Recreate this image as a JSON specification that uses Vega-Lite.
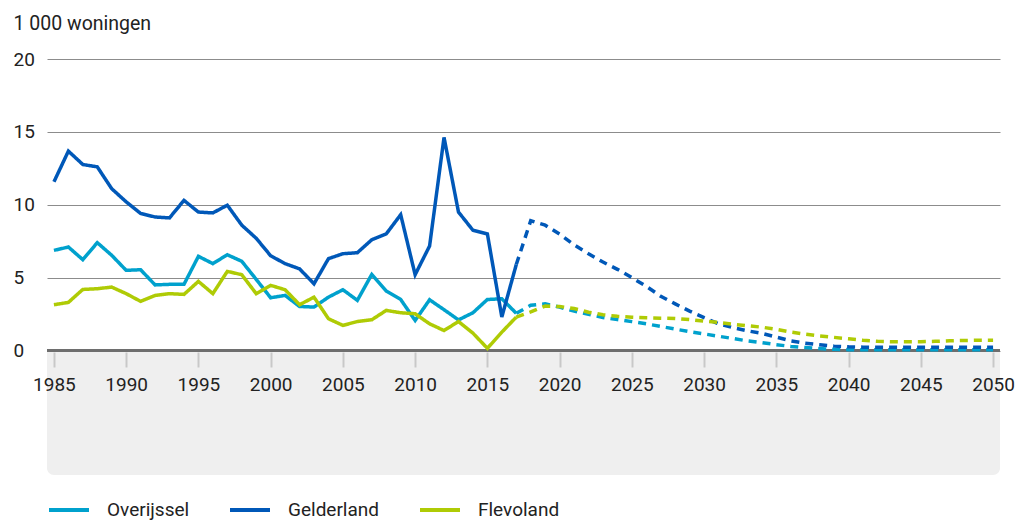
{
  "$schema": "https://vega.github.io/schema/vega-lite/v6.json",
  "autosize": {"type": "none"},
  "padding": {"left": 47, "top": 59, "right": 24, "bottom": 45},
  "width": 953,
  "height": 416,
  "background": "white",
  "config": {
    "font": "Roboto",
    "view": {"stroke": null},
    "axis": {"labelFont": "Roboto", "titleFont": "Roboto"},
    "legend": {"labelFont": "Roboto"}
  },
  "layer": [
    {
      "data": {"values": [{}]},
      "mark": {"type": "rect", "fill": "#efefef", "cornerRadiusBottomLeft": 7, "cornerRadiusBottomRight": 7},
      "encoding": {
        "x": {"datum": 1984.52, "type": "quantitative"},
        "x2": {"datum": 2050.48},
        "y": {"datum": 0, "type": "quantitative"},
        "y2": {"datum": -8.542}
      }
    },
    {
      "data": {"values": [{}]},
      "mark": {"type": "rule", "color": "#6e6e6e", "strokeWidth": 3},
      "encoding": {
        "y": {"datum": 0, "type": "quantitative"}
      }
    },
    {
      "data": {"values": [
        {"jaar": 1985, "provincie": "Overijssel", "type": "realisatie", "waarde": 6.87},
        {"jaar": 1986, "provincie": "Overijssel", "type": "realisatie", "waarde": 7.1},
        {"jaar": 1987, "provincie": "Overijssel", "type": "realisatie", "waarde": 6.23},
        {"jaar": 1988, "provincie": "Overijssel", "type": "realisatie", "waarde": 7.4},
        {"jaar": 1989, "provincie": "Overijssel", "type": "realisatie", "waarde": 6.53},
        {"jaar": 1990, "provincie": "Overijssel", "type": "realisatie", "waarde": 5.5},
        {"jaar": 1991, "provincie": "Overijssel", "type": "realisatie", "waarde": 5.54},
        {"jaar": 1992, "provincie": "Overijssel", "type": "realisatie", "waarde": 4.5},
        {"jaar": 1993, "provincie": "Overijssel", "type": "realisatie", "waarde": 4.54},
        {"jaar": 1994, "provincie": "Overijssel", "type": "realisatie", "waarde": 4.54},
        {"jaar": 1995, "provincie": "Overijssel", "type": "realisatie", "waarde": 6.46},
        {"jaar": 1996, "provincie": "Overijssel", "type": "realisatie", "waarde": 5.96},
        {"jaar": 1997, "provincie": "Overijssel", "type": "realisatie", "waarde": 6.57},
        {"jaar": 1998, "provincie": "Overijssel", "type": "realisatie", "waarde": 6.12},
        {"jaar": 1999, "provincie": "Overijssel", "type": "realisatie", "waarde": 4.88},
        {"jaar": 2000, "provincie": "Overijssel", "type": "realisatie", "waarde": 3.62},
        {"jaar": 2001, "provincie": "Overijssel", "type": "realisatie", "waarde": 3.78},
        {"jaar": 2002, "provincie": "Overijssel", "type": "realisatie", "waarde": 3.02},
        {"jaar": 2003, "provincie": "Overijssel", "type": "realisatie", "waarde": 2.98},
        {"jaar": 2004, "provincie": "Overijssel", "type": "realisatie", "waarde": 3.66},
        {"jaar": 2005, "provincie": "Overijssel", "type": "realisatie", "waarde": 4.17},
        {"jaar": 2006, "provincie": "Overijssel", "type": "realisatie", "waarde": 3.44},
        {"jaar": 2007, "provincie": "Overijssel", "type": "realisatie", "waarde": 5.22},
        {"jaar": 2008, "provincie": "Overijssel", "type": "realisatie", "waarde": 4.08},
        {"jaar": 2009, "provincie": "Overijssel", "type": "realisatie", "waarde": 3.5},
        {"jaar": 2010, "provincie": "Overijssel", "type": "realisatie", "waarde": 2.06},
        {"jaar": 2011, "provincie": "Overijssel", "type": "realisatie", "waarde": 3.48},
        {"jaar": 2012, "provincie": "Overijssel", "type": "realisatie", "waarde": 2.8},
        {"jaar": 2013, "provincie": "Overijssel", "type": "realisatie", "waarde": 2.1},
        {"jaar": 2014, "provincie": "Overijssel", "type": "realisatie", "waarde": 2.59},
        {"jaar": 2015, "provincie": "Overijssel", "type": "realisatie", "waarde": 3.5},
        {"jaar": 2016, "provincie": "Overijssel", "type": "realisatie", "waarde": 3.55},
        {"jaar": 2017, "provincie": "Overijssel", "type": "realisatie", "waarde": 2.55},
        {"jaar": 1985, "provincie": "Gelderland", "type": "realisatie", "waarde": 11.57},
        {"jaar": 1986, "provincie": "Gelderland", "type": "realisatie", "waarde": 13.68},
        {"jaar": 1987, "provincie": "Gelderland", "type": "realisatie", "waarde": 12.76},
        {"jaar": 1988, "provincie": "Gelderland", "type": "realisatie", "waarde": 12.6},
        {"jaar": 1989, "provincie": "Gelderland", "type": "realisatie", "waarde": 11.1},
        {"jaar": 1990, "provincie": "Gelderland", "type": "realisatie", "waarde": 10.2},
        {"jaar": 1991, "provincie": "Gelderland", "type": "realisatie", "waarde": 9.4},
        {"jaar": 1992, "provincie": "Gelderland", "type": "realisatie", "waarde": 9.16},
        {"jaar": 1993, "provincie": "Gelderland", "type": "realisatie", "waarde": 9.1},
        {"jaar": 1994, "provincie": "Gelderland", "type": "realisatie", "waarde": 10.3},
        {"jaar": 1995, "provincie": "Gelderland", "type": "realisatie", "waarde": 9.5},
        {"jaar": 1996, "provincie": "Gelderland", "type": "realisatie", "waarde": 9.44},
        {"jaar": 1997, "provincie": "Gelderland", "type": "realisatie", "waarde": 9.97},
        {"jaar": 1998, "provincie": "Gelderland", "type": "realisatie", "waarde": 8.6},
        {"jaar": 1999, "provincie": "Gelderland", "type": "realisatie", "waarde": 7.7},
        {"jaar": 2000, "provincie": "Gelderland", "type": "realisatie", "waarde": 6.5},
        {"jaar": 2001, "provincie": "Gelderland", "type": "realisatie", "waarde": 5.96},
        {"jaar": 2002, "provincie": "Gelderland", "type": "realisatie", "waarde": 5.6},
        {"jaar": 2003, "provincie": "Gelderland", "type": "realisatie", "waarde": 4.58},
        {"jaar": 2004, "provincie": "Gelderland", "type": "realisatie", "waarde": 6.3},
        {"jaar": 2005, "provincie": "Gelderland", "type": "realisatie", "waarde": 6.64},
        {"jaar": 2006, "provincie": "Gelderland", "type": "realisatie", "waarde": 6.71},
        {"jaar": 2007, "provincie": "Gelderland", "type": "realisatie", "waarde": 7.6},
        {"jaar": 2008, "provincie": "Gelderland", "type": "realisatie", "waarde": 8.0},
        {"jaar": 2009, "provincie": "Gelderland", "type": "realisatie", "waarde": 9.32},
        {"jaar": 2010, "provincie": "Gelderland", "type": "realisatie", "waarde": 5.2},
        {"jaar": 2011, "provincie": "Gelderland", "type": "realisatie", "waarde": 7.17},
        {"jaar": 2012, "provincie": "Gelderland", "type": "realisatie", "waarde": 14.62},
        {"jaar": 2013, "provincie": "Gelderland", "type": "realisatie", "waarde": 9.5},
        {"jaar": 2014, "provincie": "Gelderland", "type": "realisatie", "waarde": 8.25},
        {"jaar": 2015, "provincie": "Gelderland", "type": "realisatie", "waarde": 8.0},
        {"jaar": 2016, "provincie": "Gelderland", "type": "realisatie", "waarde": 2.3},
        {"jaar": 2017, "provincie": "Gelderland", "type": "realisatie", "waarde": 5.9},
        {"jaar": 1985, "provincie": "Flevoland", "type": "realisatie", "waarde": 3.14},
        {"jaar": 1986, "provincie": "Flevoland", "type": "realisatie", "waarde": 3.3},
        {"jaar": 1987, "provincie": "Flevoland", "type": "realisatie", "waarde": 4.19},
        {"jaar": 1988, "provincie": "Flevoland", "type": "realisatie", "waarde": 4.24},
        {"jaar": 1989, "provincie": "Flevoland", "type": "realisatie", "waarde": 4.35},
        {"jaar": 1990, "provincie": "Flevoland", "type": "realisatie", "waarde": 3.9},
        {"jaar": 1991, "provincie": "Flevoland", "type": "realisatie", "waarde": 3.37},
        {"jaar": 1992, "provincie": "Flevoland", "type": "realisatie", "waarde": 3.78},
        {"jaar": 1993, "provincie": "Flevoland", "type": "realisatie", "waarde": 3.9},
        {"jaar": 1994, "provincie": "Flevoland", "type": "realisatie", "waarde": 3.85},
        {"jaar": 1995, "provincie": "Flevoland", "type": "realisatie", "waarde": 4.74},
        {"jaar": 1996, "provincie": "Flevoland", "type": "realisatie", "waarde": 3.9},
        {"jaar": 1997, "provincie": "Flevoland", "type": "realisatie", "waarde": 5.43},
        {"jaar": 1998, "provincie": "Flevoland", "type": "realisatie", "waarde": 5.2},
        {"jaar": 1999, "provincie": "Flevoland", "type": "realisatie", "waarde": 3.9},
        {"jaar": 2000, "provincie": "Flevoland", "type": "realisatie", "waarde": 4.47},
        {"jaar": 2001, "provincie": "Flevoland", "type": "realisatie", "waarde": 4.17},
        {"jaar": 2002, "provincie": "Flevoland", "type": "realisatie", "waarde": 3.14},
        {"jaar": 2003, "provincie": "Flevoland", "type": "realisatie", "waarde": 3.66},
        {"jaar": 2004, "provincie": "Flevoland", "type": "realisatie", "waarde": 2.18},
        {"jaar": 2005, "provincie": "Flevoland", "type": "realisatie", "waarde": 1.72},
        {"jaar": 2006, "provincie": "Flevoland", "type": "realisatie", "waarde": 1.99},
        {"jaar": 2007, "provincie": "Flevoland", "type": "realisatie", "waarde": 2.11},
        {"jaar": 2008, "provincie": "Flevoland", "type": "realisatie", "waarde": 2.75},
        {"jaar": 2009, "provincie": "Flevoland", "type": "realisatie", "waarde": 2.59},
        {"jaar": 2010, "provincie": "Flevoland", "type": "realisatie", "waarde": 2.52},
        {"jaar": 2011, "provincie": "Flevoland", "type": "realisatie", "waarde": 1.83},
        {"jaar": 2012, "provincie": "Flevoland", "type": "realisatie", "waarde": 1.37},
        {"jaar": 2013, "provincie": "Flevoland", "type": "realisatie", "waarde": 1.99},
        {"jaar": 2014, "provincie": "Flevoland", "type": "realisatie", "waarde": 1.19},
        {"jaar": 2015, "provincie": "Flevoland", "type": "realisatie", "waarde": 0.15},
        {"jaar": 2016, "provincie": "Flevoland", "type": "realisatie", "waarde": 1.26},
        {"jaar": 2017, "provincie": "Flevoland", "type": "realisatie", "waarde": 2.29},
        {"jaar": 2017, "provincie": "Overijssel", "type": "prognose", "waarde": 2.55},
        {"jaar": 2018, "provincie": "Overijssel", "type": "prognose", "waarde": 3.1},
        {"jaar": 2019, "provincie": "Overijssel", "type": "prognose", "waarde": 3.2},
        {"jaar": 2020, "provincie": "Overijssel", "type": "prognose", "waarde": 2.98},
        {"jaar": 2021, "provincie": "Overijssel", "type": "prognose", "waarde": 2.7},
        {"jaar": 2022, "provincie": "Overijssel", "type": "prognose", "waarde": 2.48},
        {"jaar": 2023, "provincie": "Overijssel", "type": "prognose", "waarde": 2.27},
        {"jaar": 2024, "provincie": "Overijssel", "type": "prognose", "waarde": 2.12},
        {"jaar": 2025, "provincie": "Overijssel", "type": "prognose", "waarde": 1.98},
        {"jaar": 2026, "provincie": "Overijssel", "type": "prognose", "waarde": 1.83},
        {"jaar": 2027, "provincie": "Overijssel", "type": "prognose", "waarde": 1.65},
        {"jaar": 2028, "provincie": "Overijssel", "type": "prognose", "waarde": 1.47},
        {"jaar": 2029, "provincie": "Overijssel", "type": "prognose", "waarde": 1.29},
        {"jaar": 2030, "provincie": "Overijssel", "type": "prognose", "waarde": 1.14},
        {"jaar": 2031, "provincie": "Overijssel", "type": "prognose", "waarde": 0.98},
        {"jaar": 2032, "provincie": "Overijssel", "type": "prognose", "waarde": 0.82},
        {"jaar": 2033, "provincie": "Overijssel", "type": "prognose", "waarde": 0.66},
        {"jaar": 2034, "provincie": "Overijssel", "type": "prognose", "waarde": 0.54},
        {"jaar": 2035, "provincie": "Overijssel", "type": "prognose", "waarde": 0.4},
        {"jaar": 2036, "provincie": "Overijssel", "type": "prognose", "waarde": 0.28},
        {"jaar": 2037, "provincie": "Overijssel", "type": "prognose", "waarde": 0.2},
        {"jaar": 2038, "provincie": "Overijssel", "type": "prognose", "waarde": 0.13},
        {"jaar": 2039, "provincie": "Overijssel", "type": "prognose", "waarde": 0.08},
        {"jaar": 2040, "provincie": "Overijssel", "type": "prognose", "waarde": 0.06},
        {"jaar": 2041, "provincie": "Overijssel", "type": "prognose", "waarde": 0.06},
        {"jaar": 2042, "provincie": "Overijssel", "type": "prognose", "waarde": 0.06},
        {"jaar": 2043, "provincie": "Overijssel", "type": "prognose", "waarde": 0.06},
        {"jaar": 2044, "provincie": "Overijssel", "type": "prognose", "waarde": 0.06},
        {"jaar": 2045, "provincie": "Overijssel", "type": "prognose", "waarde": 0.06},
        {"jaar": 2046, "provincie": "Overijssel", "type": "prognose", "waarde": 0.06},
        {"jaar": 2047, "provincie": "Overijssel", "type": "prognose", "waarde": 0.06},
        {"jaar": 2048, "provincie": "Overijssel", "type": "prognose", "waarde": 0.06},
        {"jaar": 2049, "provincie": "Overijssel", "type": "prognose", "waarde": 0.06},
        {"jaar": 2050, "provincie": "Overijssel", "type": "prognose", "waarde": 0.06},
        {"jaar": 2017, "provincie": "Gelderland", "type": "prognose", "waarde": 5.9},
        {"jaar": 2018, "provincie": "Gelderland", "type": "prognose", "waarde": 8.9},
        {"jaar": 2019, "provincie": "Gelderland", "type": "prognose", "waarde": 8.6},
        {"jaar": 2020, "provincie": "Gelderland", "type": "prognose", "waarde": 7.98},
        {"jaar": 2021, "provincie": "Gelderland", "type": "prognose", "waarde": 7.25},
        {"jaar": 2022, "provincie": "Gelderland", "type": "prognose", "waarde": 6.64},
        {"jaar": 2023, "provincie": "Gelderland", "type": "prognose", "waarde": 6.07},
        {"jaar": 2024, "provincie": "Gelderland", "type": "prognose", "waarde": 5.57},
        {"jaar": 2025, "provincie": "Gelderland", "type": "prognose", "waarde": 5.0},
        {"jaar": 2026, "provincie": "Gelderland", "type": "prognose", "waarde": 4.4},
        {"jaar": 2027, "provincie": "Gelderland", "type": "prognose", "waarde": 3.72},
        {"jaar": 2028, "provincie": "Gelderland", "type": "prognose", "waarde": 3.2},
        {"jaar": 2029, "provincie": "Gelderland", "type": "prognose", "waarde": 2.7},
        {"jaar": 2030, "provincie": "Gelderland", "type": "prognose", "waarde": 2.25},
        {"jaar": 2031, "provincie": "Gelderland", "type": "prognose", "waarde": 1.83},
        {"jaar": 2032, "provincie": "Gelderland", "type": "prognose", "waarde": 1.57},
        {"jaar": 2033, "provincie": "Gelderland", "type": "prognose", "waarde": 1.35},
        {"jaar": 2034, "provincie": "Gelderland", "type": "prognose", "waarde": 1.18},
        {"jaar": 2035, "provincie": "Gelderland", "type": "prognose", "waarde": 0.92},
        {"jaar": 2036, "provincie": "Gelderland", "type": "prognose", "waarde": 0.66},
        {"jaar": 2037, "provincie": "Gelderland", "type": "prognose", "waarde": 0.5},
        {"jaar": 2038, "provincie": "Gelderland", "type": "prognose", "waarde": 0.39},
        {"jaar": 2039, "provincie": "Gelderland", "type": "prognose", "waarde": 0.3},
        {"jaar": 2040, "provincie": "Gelderland", "type": "prognose", "waarde": 0.25},
        {"jaar": 2041, "provincie": "Gelderland", "type": "prognose", "waarde": 0.23},
        {"jaar": 2042, "provincie": "Gelderland", "type": "prognose", "waarde": 0.22},
        {"jaar": 2043, "provincie": "Gelderland", "type": "prognose", "waarde": 0.22},
        {"jaar": 2044, "provincie": "Gelderland", "type": "prognose", "waarde": 0.22},
        {"jaar": 2045, "provincie": "Gelderland", "type": "prognose", "waarde": 0.22},
        {"jaar": 2046, "provincie": "Gelderland", "type": "prognose", "waarde": 0.22},
        {"jaar": 2047, "provincie": "Gelderland", "type": "prognose", "waarde": 0.22},
        {"jaar": 2048, "provincie": "Gelderland", "type": "prognose", "waarde": 0.22},
        {"jaar": 2049, "provincie": "Gelderland", "type": "prognose", "waarde": 0.22},
        {"jaar": 2050, "provincie": "Gelderland", "type": "prognose", "waarde": 0.22},
        {"jaar": 2017, "provincie": "Flevoland", "type": "prognose", "waarde": 2.29},
        {"jaar": 2018, "provincie": "Flevoland", "type": "prognose", "waarde": 2.65},
        {"jaar": 2019, "provincie": "Flevoland", "type": "prognose", "waarde": 3.05},
        {"jaar": 2020, "provincie": "Flevoland", "type": "prognose", "waarde": 3.02},
        {"jaar": 2021, "provincie": "Flevoland", "type": "prognose", "waarde": 2.88},
        {"jaar": 2022, "provincie": "Flevoland", "type": "prognose", "waarde": 2.62},
        {"jaar": 2023, "provincie": "Flevoland", "type": "prognose", "waarde": 2.45},
        {"jaar": 2024, "provincie": "Flevoland", "type": "prognose", "waarde": 2.35},
        {"jaar": 2025, "provincie": "Flevoland", "type": "prognose", "waarde": 2.28},
        {"jaar": 2026, "provincie": "Flevoland", "type": "prognose", "waarde": 2.24},
        {"jaar": 2027, "provincie": "Flevoland", "type": "prognose", "waarde": 2.22},
        {"jaar": 2028, "provincie": "Flevoland", "type": "prognose", "waarde": 2.2},
        {"jaar": 2029, "provincie": "Flevoland", "type": "prognose", "waarde": 2.12},
        {"jaar": 2030, "provincie": "Flevoland", "type": "prognose", "waarde": 2.02},
        {"jaar": 2031, "provincie": "Flevoland", "type": "prognose", "waarde": 1.93},
        {"jaar": 2032, "provincie": "Flevoland", "type": "prognose", "waarde": 1.8},
        {"jaar": 2033, "provincie": "Flevoland", "type": "prognose", "waarde": 1.7},
        {"jaar": 2034, "provincie": "Flevoland", "type": "prognose", "waarde": 1.6},
        {"jaar": 2035, "provincie": "Flevoland", "type": "prognose", "waarde": 1.45},
        {"jaar": 2036, "provincie": "Flevoland", "type": "prognose", "waarde": 1.26},
        {"jaar": 2037, "provincie": "Flevoland", "type": "prognose", "waarde": 1.12},
        {"jaar": 2038, "provincie": "Flevoland", "type": "prognose", "waarde": 1.0},
        {"jaar": 2039, "provincie": "Flevoland", "type": "prognose", "waarde": 0.9},
        {"jaar": 2040, "provincie": "Flevoland", "type": "prognose", "waarde": 0.8},
        {"jaar": 2041, "provincie": "Flevoland", "type": "prognose", "waarde": 0.7},
        {"jaar": 2042, "provincie": "Flevoland", "type": "prognose", "waarde": 0.63},
        {"jaar": 2043, "provincie": "Flevoland", "type": "prognose", "waarde": 0.6},
        {"jaar": 2044, "provincie": "Flevoland", "type": "prognose", "waarde": 0.6},
        {"jaar": 2045, "provincie": "Flevoland", "type": "prognose", "waarde": 0.6},
        {"jaar": 2046, "provincie": "Flevoland", "type": "prognose", "waarde": 0.63},
        {"jaar": 2047, "provincie": "Flevoland", "type": "prognose", "waarde": 0.67},
        {"jaar": 2048, "provincie": "Flevoland", "type": "prognose", "waarde": 0.69},
        {"jaar": 2049, "provincie": "Flevoland", "type": "prognose", "waarde": 0.7},
        {"jaar": 2050, "provincie": "Flevoland", "type": "prognose", "waarde": 0.7}
      ]},
      "mark": {"type": "line", "strokeWidth": 3.5, "strokeCap": "butt"},
      "encoding": {
        "x": {
          "field": "jaar",
          "type": "quantitative",
          "scale": {"domain": [1984.52, 2050.48], "nice": false, "zero": false},
          "axis": {
            "values": [1985, 1990, 1995, 2000, 2005, 2010, 2015, 2020, 2025, 2030, 2035, 2040, 2045, 2050],
            "format": "d",
            "title": null,
            "grid": false,
            "domain": false,
            "offset": -123,
            "zindex": 1,
            "tickColor": "#c8c8c8",
            "tickWidth": 2,
            "tickSize": 15,
            "labelFontSize": 19,
            "labelColor": "#222222",
            "labelPadding": 8,
            "labelFlush": false
          }
        },
        "y": {
          "field": "waarde",
          "type": "quantitative",
          "scale": {"domain": [-8.542, 20], "nice": false, "zero": false},
          "axis": {
            "values": [0, 5, 10, 15, 20],
            "title": "1 000 woningen",
            "titleAngle": 0,
            "titleAlign": "left",
            "titleBaseline": "alphabetic",
            "titleX": -34,
            "titleY": -30,
            "titleFontSize": 19.5,
            "titleFontWeight": "normal",
            "titleColor": "#222222",
            "grid": true,
            "gridColor": "#8c8c8c",
            "gridWidth": 1,
            "domain": false,
            "ticks": false,
            "labelAlign": "left",
            "labelBaseline": "middle",
            "labelPadding": 34,
            "labelFontSize": 19,
            "labelColor": "#222222"
          }
        },
        "color": {
          "field": "provincie",
          "type": "nominal",
          "scale": {"domain": ["Overijssel", "Gelderland", "Flevoland"], "range": ["#00a1cd", "#0058b8", "#afcb05"]},
          "legend": {
            "title": null,
            "orient": "none",
            "direction": "horizontal",
            "legendX": 0,
            "legendY": 429,
            "symbolType": "stroke",
            "symbolSize": 1600,
            "symbolStrokeWidth": 4,
            "labelFontSize": 19,
            "labelColor": "#222222",
            "labelOffset": 16,
            "columnPadding": 32
          }
        },
        "strokeDash": {
          "field": "type",
          "type": "nominal",
          "scale": {"domain": ["realisatie", "prognose"], "range": [[1, 0], [8, 6]]},
          "legend": null
        }
      }
    }
  ]
}
